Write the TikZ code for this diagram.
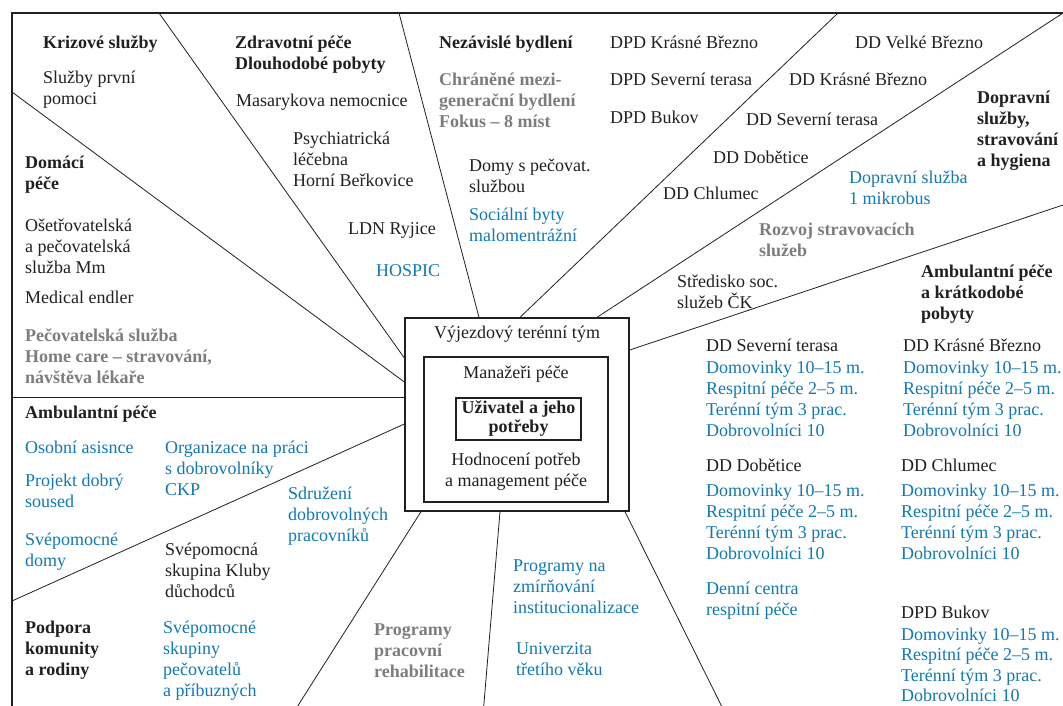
\documentclass[tikz,border=0pt]{standalone}
\usepackage{fontspec}
\setmainfont{Liberation Serif}
\usetikzlibrary{calc}
\definecolor{tblue}{RGB}{18,121,178}
\definecolor{tgray}{RGB}{125,125,125}
\definecolor{tblack}{RGB}{35,31,32}
\newcommand\ML[1]{\vtop{\baselineskip=21pt\lineskiplimit=-100pt\halign{##\hfil\cr#1\crcr}}}
\newcommand\MC[1]{\vtop{\baselineskip=21pt\lineskiplimit=-100pt\halign{\hfil##\hfil\cr#1\crcr}}}
\begin{document}
\begin{tikzpicture}[x=1pt,y=-1pt,
  txt/.style={inner sep=0pt, anchor=base west, font=\fontsize{18}{21}\selectfont, text=tblack},
  ctr/.style={txt, anchor=base},
  hd/.style={font=\fontsize{18}{21}\selectfont\bfseries},
  bl/.style={text=tblue},
  gr/.style={text=tgray, font=\fontsize{18}{21}\selectfont\bfseries},
  spoke/.style={draw=tblack, line width=0.8pt},
  box/.style={draw=tblack, line width=1.3pt, inner sep=0pt},
  frame/.style={draw=tblack, line width=2.4pt}]
\useasboundingbox (0,0) rectangle (1063,705);
\clip (0,0) rectangle (1063,705);
\fill[white] (0,0) rectangle (1063,705);
% frame
\draw[frame] (12,720) -- (12,13) -- (1090,13);
% central boxes
\node[box, minimum width=224pt, minimum height=193pt] (team) at (517,414.5) {};
\node[box, minimum width=184pt, minimum height=145pt] (mgr) at (516,429.5) {};
\node[box, minimum width=125pt, minimum height=42pt, font=\fontsize{18}{21}\selectfont\bfseries, text=tblack] (user) at (518.5,419) {\vtop{\baselineskip=19pt\lineskiplimit=-100pt\halign{\hfil#\hfil\cr Uživatel a jeho\cr potřeby\crcr}}};
\node[ctr] (vt) at (517,338) {Výjezdový terénní tým};
\node[ctr] (mp) at (516,378) {Manažeři péče};
\node[ctr] (hod) at (516,465) {\MC{Hodnocení potřeb\cr a management péče}};
% frame end points of spokes
\coordinate (fA) at (159,13);
\coordinate (fB) at (12,92);
\coordinate (fC) at (12,397);
\coordinate (fD) at (12,601);
\coordinate (fE) at (292,715);
\coordinate (fF) at (483,715);
\coordinate (fG) at (726,715);
\coordinate (fH) at (399,13);
\coordinate (fI) at (838,13);
\coordinate (fJ) at (1063,13);
\coordinate (fK) at (1090,196);
% spokes
\draw[spoke] (team.west |- 0,358) -- (fA);
\draw[spoke] (team.west |- 0,382) -- (fB);
\draw[spoke] (team.west |- 0,397) -- (fC);
\draw[spoke] (team.west |- 0,424) -- (fD);
\draw[spoke] (421,0 |- team.south) -- (fE);
\draw[spoke] (500,0 |- team.south) -- (fF);
\draw[spoke] (625,0 |- team.south) -- (fG);
\draw[spoke] (479,0 |- team.north) -- (fH);
\draw[spoke] (520,0 |- team.north) -- (fI);
\draw[spoke] (597,0 |- team.north) -- (fJ);
\draw[spoke] (team.east |- 0,350) -- (fK);
% left top sector
\node[txt,hd] (t1) at (43,48) {Krizové služby};
\node[txt] (t2) at (43,83) {\ML{Služby první\cr pomoci}};
\node[txt,hd] (t3) at (235,48) {\ML{Zdravotní péče\cr Dlouhodobé pobyty}};
\node[txt] (t4) at (236,106) {Masarykova nemocnice};
\node[txt] (t5) at (293,144) {\ML{Psychiatrická\cr léčebna\cr Horní Beřkovice}};
\node[txt] (t6) at (348,234) {LDN Ryjice};
\node[txt,bl] (t7) at (376,276) {HOSPIC};
\node[txt,hd] (t8) at (25,168) {\ML{Domácí\cr péče}};
\node[txt] (t9) at (25,231) {\ML{Ošetřovatelská\cr a pečovatelská\cr služba Mm}};
\node[txt] (t10) at (25,303) {Medical endler};
\node[txt,gr] (t11) at (25,341) {\ML{Pečovatelská služba\cr Home care – stravování,\cr návštěva lékaře}};
% left bottom sector
\node[txt,hd] (t12) at (25,418) {Ambulantní péče};
\node[txt,bl] (t13) at (25,453) {Osobní asisnce};
\node[txt,bl] (t14) at (165,453) {\ML{Organizace na práci\cr s dobrovolníky\cr CKP}};
\node[txt,bl] (t15) at (25,486) {\ML{Projekt dobrý\cr soused}};
\node[txt,bl] (t16) at (288,499) {\ML{Sdružení\cr dobrovolných\cr pracovníků}};
\node[txt,bl] (t17) at (25,545) {\ML{Svépomocné\cr domy}};
\node[txt] (t18) at (165,555) {\ML{Svépomocná\cr skupina Kluby\cr důchodců}};
\node[txt,hd] (t19) at (25,633) {\ML{Podpora\cr komunity\cr a rodiny}};
\node[txt,bl] (t20) at (163,633) {\ML{Svépomocné\cr skupiny\cr pečovatelů\cr a příbuzných}};
\node[txt,gr] (t21) at (374,635) {\ML{Programy\cr pracovní\cr rehabilitace}};
\node[txt,bl] (t22) at (513,571) {\ML{Programy na\cr zmírňování\cr institucionalizace}};
\node[txt,bl] (t23) at (516,654) {\ML{Univerzita\cr třetího věku}};
% top middle
\node[txt,hd] (t24) at (439,48) {Nezávislé bydlení};
\node[txt,gr] (t25) at (439,85) {\ML{Chráněné mezi-\cr generační bydlení\cr Fokus – 8 míst}};
\node[txt] (t26) at (469,171) {\ML{Domy s pečovat.\cr službou}};
\node[txt,bl] (t27) at (469,220) {\ML{Sociální byty\cr malomentrážní}};
\node[txt] (t28) at (610,48) {DPD Krásné Březno};
\node[txt] (t29) at (610,85) {DPD Severní terasa};
\node[txt] (t30) at (610,123) {DPD Bukov};
\node[txt] (t31) at (855,48) {DD Velké Březno};
\node[txt] (t32) at (789,85) {DD Krásné Březno};
\node[txt] (t33) at (746,125) {DD Severní terasa};
\node[txt] (t34) at (713,163) {DD Dobětice};
\node[txt] (t35) at (663,199) {DD Chlumec};
% right top
\node[txt,hd] (t36) at (977,103) {\ML{Dopravní\cr služby,\cr stravování\cr a hygiena}};
\node[txt,bl] (t37) at (849,183) {\ML{Dopravní služba\cr 1 mikrobus}};
\node[txt,gr] (t38) at (759,235) {\ML{Rozvoj stravovacích\cr služeb}};
\node[txt] (t39) at (677,287) {\ML{Středisko soc.\cr služeb ČK}};
% right bottom
\node[txt,hd] (t40) at (921,277) {\ML{Ambulantní péče\cr a krátkodobé\cr pobyty}};
\node[txt] (t41) at (706,351) {DD Severní terasa};
\node[txt,bl] (t42) at (706,373) {\ML{Domovinky 10–15 m.\cr Respitní péče 2–5 m.\cr Terénní tým 3 prac.\cr Dobrovolníci 10}};
\node[txt] (t43) at (903,351) {DD Krásné Březno};
\node[txt,bl] (t44) at (903,373) {\ML{Domovinky 10–15 m.\cr Respitní péče 2–5 m.\cr Terénní tým 3 prac.\cr Dobrovolníci 10}};
\node[txt] (t45) at (706,471) {DD Dobětice};
\node[txt,bl] (t46) at (706,496) {\ML{Domovinky 10–15 m.\cr Respitní péče 2–5 m.\cr Terénní tým 3 prac.\cr Dobrovolníci 10}};
\node[txt] (t47) at (901,471) {DD Chlumec};
\node[txt,bl] (t48) at (901,496) {\ML{Domovinky 10–15 m.\cr Respitní péče 2–5 m.\cr Terénní tým 3 prac.\cr Dobrovolníci 10}};
\node[txt,bl] (t49) at (706,594) {\ML{Denní centra\cr respitní péče}};
\node[txt] (t50) at (901,618) {DPD Bukov};
\node[txt,bl] (t51) at (901,640) {\vtop{\baselineskip=20.5pt\lineskiplimit=-100pt\halign{#\hfil\cr Domovinky 10–15 m.\cr Respitní péče 2–5 m.\cr Terénní tým 3 prac.\cr Dobrovolníci 10\crcr}}};
\end{tikzpicture}
\end{document}
